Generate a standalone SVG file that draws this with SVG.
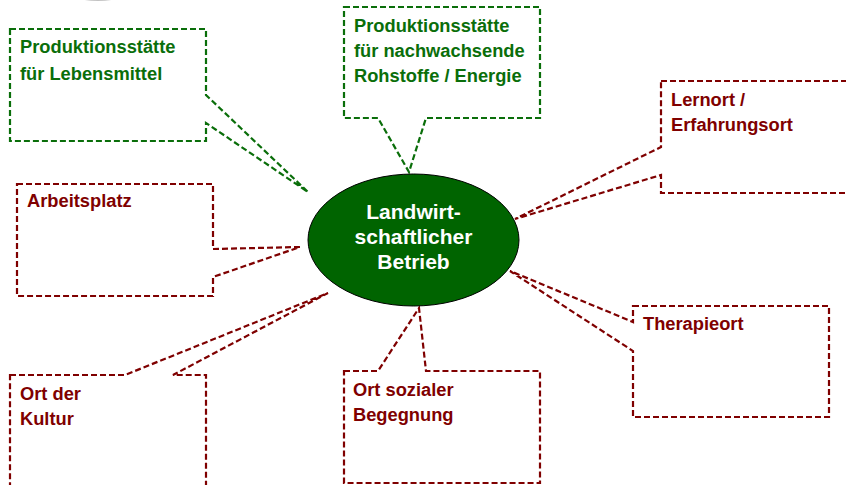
<svg xmlns="http://www.w3.org/2000/svg" width="846" height="485" viewBox="0 0 846 485">
<style>
.co{fill:#fff;stroke-width:2.2;stroke-dasharray:6 3;stroke-linejoin:miter}
.g{stroke:#0a6e0a}
.r{stroke:#7f0000}
.t{font-family:"Liberation Sans",Arial,sans-serif;font-weight:bold;font-size:18.3px}
.tg{fill:#0a6e0a}
.tr{fill:#7f0000}
.c{font-family:"Liberation Sans",Arial,sans-serif;font-weight:bold;font-size:21px;fill:#fff;text-anchor:middle}
</style>
<rect width="846" height="485" fill="#fff"/>
<ellipse cx="98" cy="-4" rx="22" ry="5" fill="#9a9a9a" opacity="0.6"/>
<g id="connectors"></g>
<g id="n-lebensmittel">
<path class="co g" d="M10,29 H206 V95 L308,192 L206,123 V141 H10 Z"/>
<text class="t tg" x="20" y="53">Produktionsstätte</text>
<text class="t tg" x="20" y="80">für Lebensmittel</text>
</g>
<g id="n-rohstoffe">
<path class="co g" d="M344,7 H540 V118 H426 L409,172 L378,118 H344 Z"/>
<text class="t tg" x="354" y="32">Produktionsstätte</text>
<text class="t tg" x="354" y="57">für nachwachsende</text>
<text class="t tg" x="354" y="82">Rohstoffe / Energie</text>
</g>
<g id="n-lernort">
<path class="co r" d="M661,81 H850 V193 H661 V175 L515,219 L661,147 Z"/>
<text class="t tr" x="671" y="106">Lernort /</text>
<text class="t tr" x="671" y="131">Erfahrungsort</text>
</g>
<g id="n-arbeitsplatz">
<path class="co r" d="M17,184 H213 V249 L300,247 L213,277 V296 H17 Z"/>
<text class="t tr" x="27" y="207">Arbeitsplatz</text>
</g>
<g id="n-kultur">
<path class="co r" d="M10,375 H125 L328,293 L173,375 H206 V490 H10 Z"/>
<text class="t tr" x="20" y="400">Ort der</text>
<text class="t tr" x="20" y="425">Kultur</text>
</g>
<g id="n-begegnung">
<path class="co r" d="M344,371 H378 L419,308 L426,371 H540 V483 H344 Z"/>
<text class="t tr" x="353" y="396">Ort sozialer</text>
<text class="t tr" x="353" y="421">Begegnung</text>
</g>
<g id="n-therapieort">
<path class="co r" d="M633,306 H829 V417 H633 V351 L510,271 L633,322 Z"/>
<text class="t tr" x="643" y="330">Therapieort</text>
</g>
<g id="n-betrieb">
<ellipse cx="413.5" cy="240" rx="105.5" ry="66" fill="#006400" stroke="#000" stroke-width="1"/>
<text class="c" x="413.5" y="219">Landwirt-</text>
<text class="c" x="413.5" y="244">schaftlicher</text>
<text class="c" x="413.5" y="269">Betrieb</text>
</g>
</svg>
